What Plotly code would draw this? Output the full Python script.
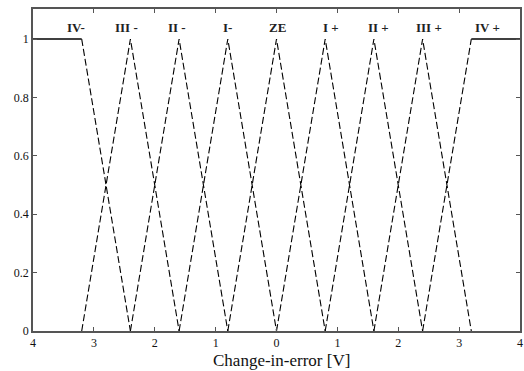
import plotly.graph_objects as go

labels = ["IV-", "III -", "II -", "I-", "ZE", "I +", "II +", "III +", "IV +"]
peaks = [-3.2, -2.4, -1.6, -0.8, 0.0, 0.8, 1.6, 2.4, 3.2]
half_width = 0.8
label_x = [-3.3, -2.46, -1.63, -0.81, 0.02, 0.9, 1.67, 2.5, 3.46]
label_y = 1.038
x_ticks = [-4, -3, -2, -1, 0, 1, 2, 3, 4]
x_tick_text = ["4", "3", "2", "1", "0", "1", "2", "3", "4"]
y_ticks = [0, 0.2, 0.4, 0.6, 0.8, 1.0]
y_tick_text = ["0", "0.2", "0.4", "0.6", "0.8", "1"]

fig = go.Figure()
dash_style = dict(color="black", width=1.1, dash="7px,3px")
solid_style = dict(color="black", width=1.4)

for i, p in enumerate(peaks):
    if i == 0:
        fig.add_trace(go.Scatter(x=[-4, p], y=[1, 1], mode="lines", line=solid_style, showlegend=False))
        fig.add_trace(go.Scatter(x=[p, p + half_width], y=[1, 0], mode="lines", line=dash_style, showlegend=False))
    elif i == len(peaks) - 1:
        fig.add_trace(go.Scatter(x=[p - half_width, p], y=[0, 1], mode="lines", line=dash_style, showlegend=False))
        fig.add_trace(go.Scatter(x=[p, 4], y=[1, 1], mode="lines", line=solid_style, showlegend=False))
    else:
        fig.add_trace(go.Scatter(x=[p - half_width, p, p + half_width], y=[0, 1, 0], mode="lines",
                                 line=dash_style, showlegend=False))

serif = "Liberation Serif"
for lx, lab in zip(label_x, labels):
    fig.add_annotation(x=lx, y=label_y, text="<b>" + lab + "</b>", showarrow=False,
                       font=dict(family=serif, size=13, color="#222"))

fig.add_annotation(x=0.511, xref="paper", y=0, yref="paper", yshift=-29, yanchor="middle",
                   text="Change-in-error [V]", showarrow=False,
                   font=dict(family=serif, size=17, color="#111"))

axis_common = dict(showgrid=False, zeroline=False, showline=True, linecolor="#555", linewidth=1.5,
                   mirror="ticks", ticks="inside", ticklen=4, tickcolor="#555", automargin=False,
                   tickfont=dict(family=serif, size=12, color="#111"))

fig.update_xaxes(range=[-4, 4], tickvals=x_ticks, ticktext=x_tick_text, **axis_common)
fig.update_yaxes(range=[0, 1.103], tickvals=y_ticks, ticktext=y_tick_text, **axis_common)

fig.update_layout(width=524, height=371, margin=dict(l=33, r=4, t=9, b=40),
                  plot_bgcolor="white", paper_bgcolor="white")

fig.write_html("out.html", config={"displayModeBar": False},
               post_script="document.body.style.margin='0';document.body.style.overflow='hidden';")
